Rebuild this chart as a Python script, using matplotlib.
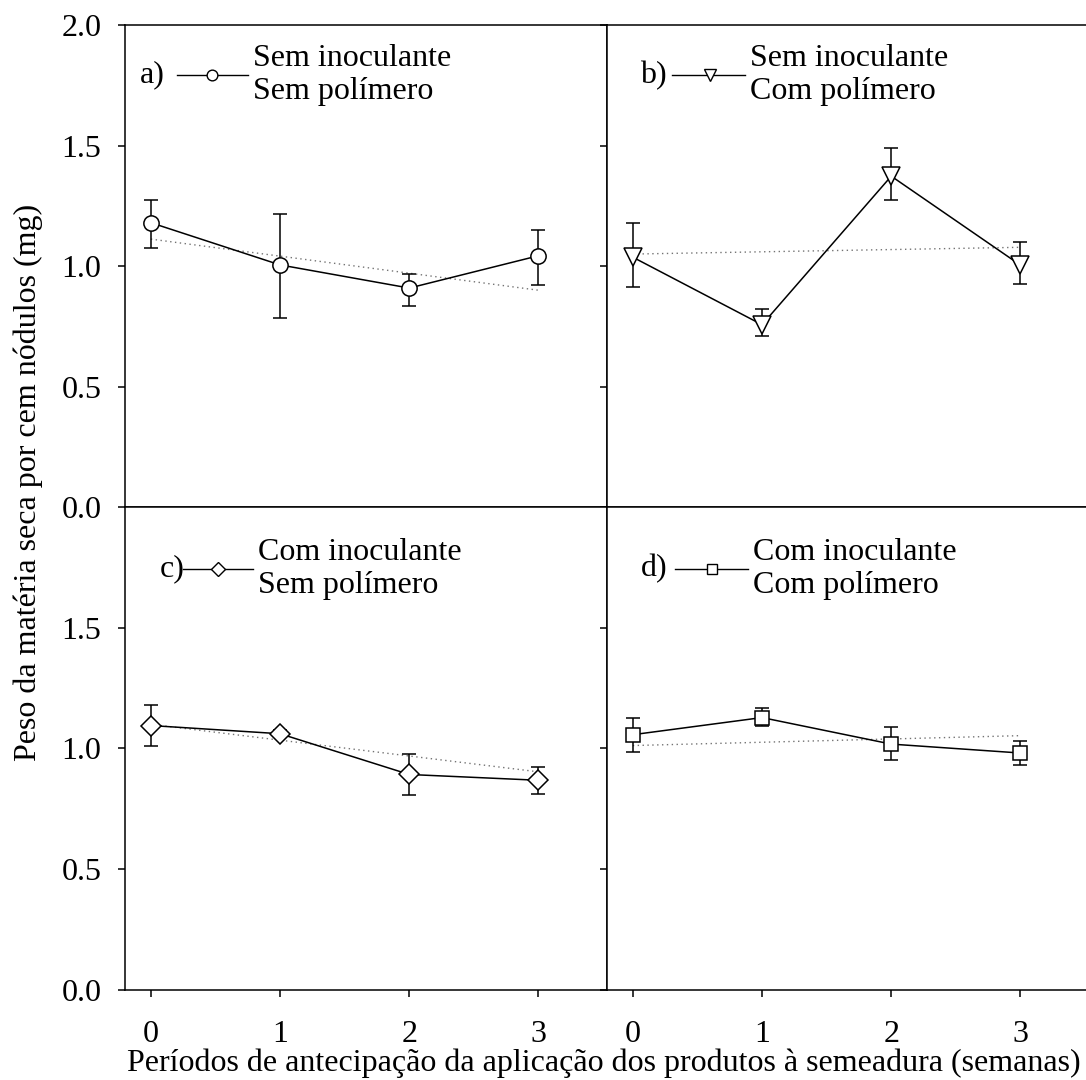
import numpy as np
import matplotlib
matplotlib.use("Agg")
import matplotlib.pyplot as plt

plt.rcParams["font.family"] = ["Liberation Serif", "DejaVu Serif"]
plt.rcParams["font.size"] = 23

# semanas de antecipação
semanas = [0, 1, 2, 3]

# a) sem inoculante, sem polímero
media_a = [1.18, 1.005, 0.909, 1.043]
sup_a = [1.274, 1.216, 0.969, 1.149]
inf_a = [1.074, 0.785, 0.833, 0.923]
reta_a = [1.112, 0.900]

# b) sem inoculante, com polímero
media_b = [1.037, 0.757, 1.373, 1.004]
sup_b = [1.180, 0.821, 1.490, 1.098]
inf_b = [0.914, 0.712, 1.275, 0.927]
reta_b = [1.050, 1.078]

# c) com inoculante, sem polímero
media_c = [1.095, 1.061, 0.892, 0.868]
sup_c = [1.179, 1.075, 0.979, 0.924]
inf_c = [1.010, 1.047, 0.806, 0.811]
reta_c = [1.100, 0.903]

# d) com inoculante, com polímero
media_d = [1.057, 1.128, 1.018, 0.981]
sup_d = [1.127, 1.169, 1.087, 1.030]
inf_d = [0.986, 1.091, 0.952, 0.930]
reta_d = [1.012, 1.053]

fig = plt.figure(figsize=(10.86, 10.8), dpi=100)

L, W, H = 0.1151, 0.4438, 0.4466
ax_a = fig.add_axes([L, 0.5303, W, H])
ax_b = fig.add_axes([L + W, 0.5303, W, H])
ax_c = fig.add_axes([L, 0.5303 - H, W, H])
ax_d = fig.add_axes([L + W, 0.5303 - H, W, H])

paineis = [
    (ax_a, media_a, sup_a, inf_a, reta_a, "o", 11, "a)", "Sem inoculante\nSem polímero", (0.031, 0.108, 0.18, 0.255, 0.266), 0.896),
    (ax_b, media_b, sup_b, inf_b, reta_b, "v", 13, "b)", "Sem inoculante\nCom polímero", (0.068, 0.135, 0.214, 0.286, 0.297), 0.896),
    (ax_c, media_c, sup_c, inf_c, reta_c, "D", 10, "c)", "Com inoculante\nSem polímero", (0.073, 0.12, 0.193, 0.266, 0.276), 0.872),
    (ax_d, media_d, sup_d, inf_d, reta_d, "s", 10, "d)", "Com inoculante\nCom polímero", (0.07, 0.141, 0.218, 0.292, 0.303), 0.872),
]

for i, (ax, med, sup, inf, reta, mk, ms, letra, rotulo, pos, ly) in enumerate(paineis):
    med = np.array(med)
    yerr = [med - np.array(inf), np.array(sup) - med]
    # reta de regressão pontilhada
    ax.plot([0, 3], reta, ls=(0, (1, 2.5)), color="0.45", lw=1.0, zorder=1)
    ax.errorbar(semanas, med, yerr=yerr, fmt="-", color="black", lw=1.1,
                elinewidth=1.1, capsize=5, capthick=1.1, zorder=2)
    ax.plot(semanas, med, ls="none", marker=mk, ms=ms, mfc="white",
            mec="black", mew=1.1, zorder=3)

    # legenda de cada painel
    tx, l0, lm, l1, txt = pos
    ax.text(tx, ly, letra, transform=ax.transAxes, ha="left", va="center")
    ax.plot([l0, l1], [ly, ly], transform=ax.transAxes, color="black", lw=1.0)
    ax.plot([lm], [ly], transform=ax.transAxes, marker=mk, ms=ms * 0.7,
            mfc="white", mec="black", mew=1.0)
    ax.text(txt, ly, rotulo, transform=ax.transAxes, ha="left", va="center",
            linespacing=1.17)

    ax.set_xlim(-0.2, 3.53)
    ax.set_ylim(0, 2.0)
    ax.set_xticks(semanas)
    ax.tick_params(direction="out", length=5, width=1.1)
    ax.tick_params(axis="x", pad=17)
    ax.tick_params(axis="y", pad=12)
    for s in ax.spines.values():
        s.set_linewidth(1.1)

    if i < 2:
        ax.set_yticks([0, 0.5, 1.0, 1.5, 2.0])
        ax.tick_params(axis="x", labelbottom=False)
    else:
        ax.set_yticks([0, 0.5, 1.0, 1.5])
    if i % 2 == 0:
        ax.set_yticklabels([f"{v:.1f}" for v in ax.get_yticks()])
    else:
        ax.tick_params(axis="y", labelleft=False)

fig.text(0.026, 0.553, "Peso da matéria seca por cem nódulos (mg)",
         rotation=90, ha="center", va="center")
fig.text(0.556, 0.0157, "Períodos de antecipação da aplicação dos produtos à semeadura (semanas)",
         ha="center", va="center")

fig.savefig("out.png", dpi=100)
